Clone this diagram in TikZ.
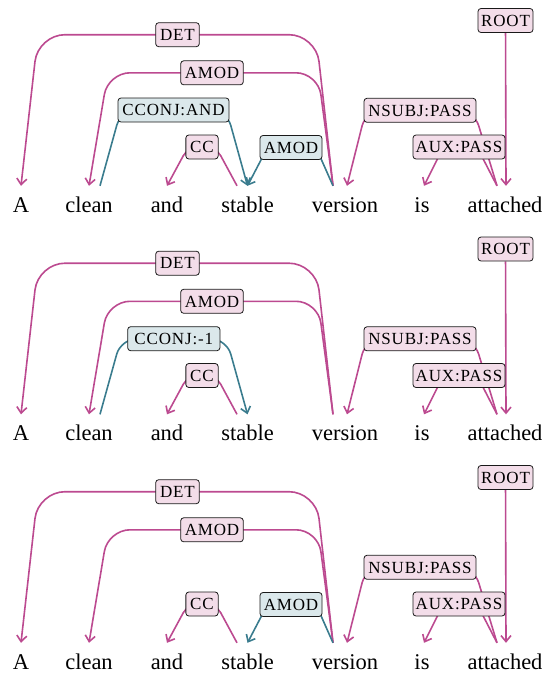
\documentclass[tikz,border=0pt]{standalone}
\usepackage{fontspec}
\setmainfont{Liberation Serif}
\newfontfamily\labfont[LetterSpace=5]{Liberation Serif}
\usetikzlibrary{arrows.meta,calc}
\pgfdeclarelayer{background}
\pgfsetlayers{background,main}
\definecolor{pinkline}{RGB}{188,74,144}
\definecolor{pinkfill}{RGB}{243,221,233}
\definecolor{tealline}{RGB}{58,124,142}
\definecolor{tealfill}{RGB}{219,232,235}
\tikzset{
  word/.style={anchor=base, inner sep=0pt, text height=26pt, font=\fontsize{22.5}{27}\selectfont},
  lab/.style={draw=black!90, line width=0.8pt, rounded corners=3pt, inner xsep=0pt, inner ysep=6.3pt,
    text height=11.4pt, text depth=0pt, minimum height=24pt, font=\labfont\fontsize{17}{19}\selectfont},
  plab/.style={lab, fill=pinkfill},
  tlab/.style={lab, fill=tealfill},
  dep/.style={line width=1.6pt, -{Straight Barb[length=6pt,width=10pt]}},
  pdep/.style={dep, draw=pinkline},
  tdep/.style={dep, draw=tealline},
}
% #1 style, #2 tail, #3 tip, #4 label node, #5 tail-side slant, #6 tip-side slant
\newcommand\deparc[6]{%
  \draw[#1] (#2) -- ($(#2 |- #4.center)+(#5,0)$) -- (#4.center)
     -- ($(#3 |- #4.center)+(#6,0)$) -- (#3);}
\newcommand\commonrow[1]{%
  \node[word] (#1A) at (21,212) {A};
  \node[word] (#1clean) at (89,212) {clean};
  \node[word] (#1and) at (167,212) {and};
  \node[word] (#1stable) at (247.5,212) {stable};
  \node[word] (#1version) at (345,212) {version};
  \node[word] (#1is) at (422,212) {is};
  \node[word] (#1attached) at (505,212) {attached};
  \coordinate (#1Ain) at (#1A.north);
  \coordinate (#1cleanin) at (#1clean.north);
  \coordinate (#1cleanout) at ([xshift=11pt]#1clean.north);
  \coordinate (#1andin) at (#1and.north);
  \coordinate (#1stableout) at ([xshift=-10.5pt]#1stable.north);
  \coordinate (#1stablein) at (#1stable.north);
  \coordinate (#1versionout) at ([xshift=-12pt]#1version.north);
  \coordinate (#1versionin) at ([xshift=2pt]#1version.north);
  \coordinate (#1isin) at ([xshift=2pt]#1is.north);
  \coordinate (#1attachedout) at ([xshift=-8pt]#1attached.north);
  \coordinate (#1attachedin) at ([xshift=1pt]#1attached.north);
  \node[plab, minimum width=43.6pt] (#1det) at (177.5,34.7) {DET};
  \node[plab, minimum width=62.6pt] (#1amod) at (212,72.8) {AMOD};
  \node[plab, minimum width=32.3pt] (#1cc) at (202,147) {CC};
  \node[plab, minimum width=112pt] (#1nsubj) at (420,110.3) {NSUBJ:PASS};
  \node[plab, minimum width=92pt] (#1aux) at (459,147) {AUX:PASS};
  \node[plab, minimum width=55pt] (#1root) at (505.5,20.5) {ROOT};
  \begin{pgfonlayer}{background}
    \deparc{pdep,rounded corners=27pt}{#1versionout}{#1Ain}{#1det}{-17}{17}
    \deparc{pdep,rounded corners=22pt}{#1versionout}{#1cleanin}{#1amod}{-15}{19}
    \deparc{pdep,rounded corners=10pt}{#1stableout}{#1andin}{#1cc}{-21}{21}
    \deparc{pdep,rounded corners=16pt}{#1attachedout}{#1versionin}{#1nsubj}{-23}{19}
    \deparc{pdep,rounded corners=10pt}{#1attachedout}{#1isin}{#1aux}{-20}{19.5}
    \draw[pdep] (#1root) -- (#1attachedin);
  \end{pgfonlayer}
}
\begin{document}
\begin{tikzpicture}[x=1pt,y=-1pt]
\useasboundingbox (0,0) rectangle (547,678);
% row 1
\begin{scope}
  \commonrow{ra}
  \node[tlab, minimum width=111pt] (racconj) at (173.5,110) {CCONJ:AND};
  \node[tlab, minimum width=62pt] (ratamod) at (291,147.5) {AMOD};
  \begin{pgfonlayer}{background}
    \deparc{tdep,rounded corners=16pt}{racleanout}{rastablein}{racconj}{21}{-21}
    \deparc{tdep,rounded corners=10pt}{raversionout}{rastablein}{ratamod}{-17}{20}
  \end{pgfonlayer}
\end{scope}
% row 2
\begin{scope}[yshift=-228.5pt]
  \commonrow{rb}
  \node[tlab, minimum width=92.3pt] (rbcconj) at (173.8,110.2) {CCONJ:-1};
  \begin{pgfonlayer}{background}
    \deparc{tdep,rounded corners=16pt}{rbcleanout}{rbstablein}{rbcconj}{21}{-21}
  \end{pgfonlayer}
\end{scope}
% row 3
\begin{scope}[yshift=-457pt]
  \commonrow{rc}
  \node[tlab, minimum width=62pt] (rctamod) at (291,147.5) {AMOD};
  \begin{pgfonlayer}{background}
    \deparc{tdep,rounded corners=10pt}{rcversionout}{rcstablein}{rctamod}{-17}{20}
  \end{pgfonlayer}
\end{scope}
\end{tikzpicture}
\end{document}
